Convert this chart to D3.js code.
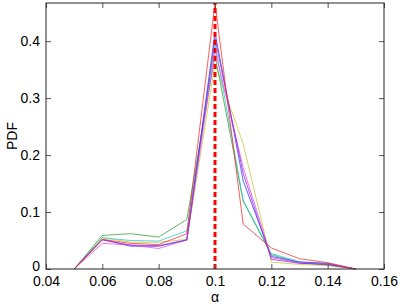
<!DOCTYPE html>
<html>
<head>
<meta charset="utf-8">
<script src="https://cdn.jsdelivr.net/npm/d3@7"></script>
<style>
  body { margin: 0; background: #fff; }
  text { font-family: "Liberation Sans", Arial, sans-serif; }
</style>
</head>
<body>
<div class="chart"></div>
<script>
const alphas = [0.05, 0.06, 0.07, 0.08, 0.09, 0.10, 0.11, 0.12, 0.13, 0.14, 0.15];

const yellowRun  = [0, 0.055, 0.047, 0.047, 0.052, 0.360, 0.220, 0.012, 0.008, 0.006, 0];
const greenRun   = [0, 0.059, 0.062, 0.056, 0.087, 0.375, 0.119, 0.025, 0.011, 0.007, 0];
const cyanRun    = [0, 0.055, 0.050, 0.049, 0.067, 0.395, 0.121, 0.027, 0.013, 0.009, 0];
const blueRun    = [0, 0.052, 0.040, 0.040, 0.051, 0.415, 0.155, 0.022, 0.012, 0.010, 0];
const magentaRun = [0, 0.045, 0.042, 0.036, 0.051, 0.385, 0.178, 0.020, 0.011, 0.008, 0];
const purpleRun  = [0, 0.051, 0.042, 0.041, 0.051, 0.405, 0.168, 0.017, 0.010, 0.008, 0];
const redRun     = [0, 0.052, 0.045, 0.043, 0.062, 0.467, 0.079, 0.037, 0.018, 0.011, 0];

const runs = [
  { name: "yellow", color: "#c8c832", values: yellowRun },
  { name: "green", color: "#2ea02e", values: greenRun },
  { name: "cyan", color: "#22c8c8", values: cyanRun },
  { name: "blue", color: "#3232ff", values: blueRun },
  { name: "magenta", color: "#ee44ee", values: magentaRun },
  { name: "purple", color: "#8a2ad0", values: purpleRun },
  { name: "red", color: "#ff2a2a", values: redRun }
];

const xTicks = [0.04, 0.06, 0.08, 0.10, 0.12, 0.14, 0.16];
const yTicks = [0, 0.1, 0.2, 0.3, 0.4];
const trueAlpha = 0.1;

const width = 402, height = 306;
const plotL = 46, plotR = 384, plotT = 3, plotB = 269;

const x = d3.scaleLinear().domain([0.04, 0.16]).range([plotL, plotR]);
const y = d3.scaleLinear().domain([0, d3.max(redRun)]).range([plotB, plotT]);

const svg = d3.select(".chart")
  .append("svg")
  .attr("width", width)
  .attr("height", height);

const fmt = d => String(+d.toFixed(2));

// lines
const line = d3.line()
  .x((d, i) => x(alphas[i]))
  .y(d => y(d));

svg.append("g")
  .selectAll("path")
  .data(runs)
  .enter()
  .append("path")
  .attr("d", d => line(d.values))
  .attr("fill", "none")
  .attr("stroke", d => d.color)
  .attr("stroke-width", 0.9)
  .attr("stroke-opacity", 0.85);

// true alpha marker
svg.append("line")
  .attr("x1", x(trueAlpha))
  .attr("x2", x(trueAlpha))
  .attr("y1", y.range()[0])
  .attr("y2", y.range()[1])
  .attr("stroke", "#ff0000")
  .attr("stroke-width", 3)
  .attr("stroke-dasharray", "5,3");

// axes, ticks pointing in
function styleAxis(g) {
  g.select(".domain").remove();
  g.selectAll(".tick line").attr("stroke", "#555");
  g.selectAll("text")
    .attr("fill", "#000")
    .style("font-size", "14px")
    .style("font-family", "Liberation Sans, Arial, sans-serif");
}

svg.append("g")
  .attr("transform", "translate(0," + plotB + ")")
  .call(d3.axisBottom(x).tickValues(xTicks).tickFormat(fmt).tickSize(-5).tickPadding(7))
  .call(styleAxis);

svg.append("g")
  .attr("transform", "translate(0," + plotT + ")")
  .call(d3.axisTop(x).tickValues(xTicks).tickFormat("").tickSize(-5))
  .call(styleAxis);

svg.append("g")
  .attr("transform", "translate(" + plotL + ",0)")
  .call(d3.axisLeft(y).tickValues(yTicks).tickFormat(fmt).tickSize(-5).tickPadding(6))
  .call(styleAxis);

svg.append("g")
  .attr("transform", "translate(" + plotR + ",0)")
  .call(d3.axisRight(y).tickValues(yTicks).tickFormat("").tickSize(-5))
  .call(styleAxis);

// the "0" label sits a touch higher so it clears "0.04"
svg.selectAll("g.tick text").filter(d => d === 0).attr("dy", "0.1em");

// box
svg.append("rect")
  .attr("x", plotL)
  .attr("y", plotT)
  .attr("width", plotR - plotL)
  .attr("height", plotB - plotT)
  .attr("fill", "none")
  .attr("stroke", "#222")
  .attr("stroke-width", 1);

svg.append("text")
  .attr("x", x(0.1))
  .attr("y", 302)
  .attr("text-anchor", "middle")
  .style("font-size", "14px")
  .text("α");

svg.append("text")
  .attr("transform", "translate(17," + ((plotT + plotB) / 2) + ") rotate(-90)")
  .attr("text-anchor", "middle")
  .style("font-size", "14px")
  .text("PDF");
</script>
</body>
</html>
